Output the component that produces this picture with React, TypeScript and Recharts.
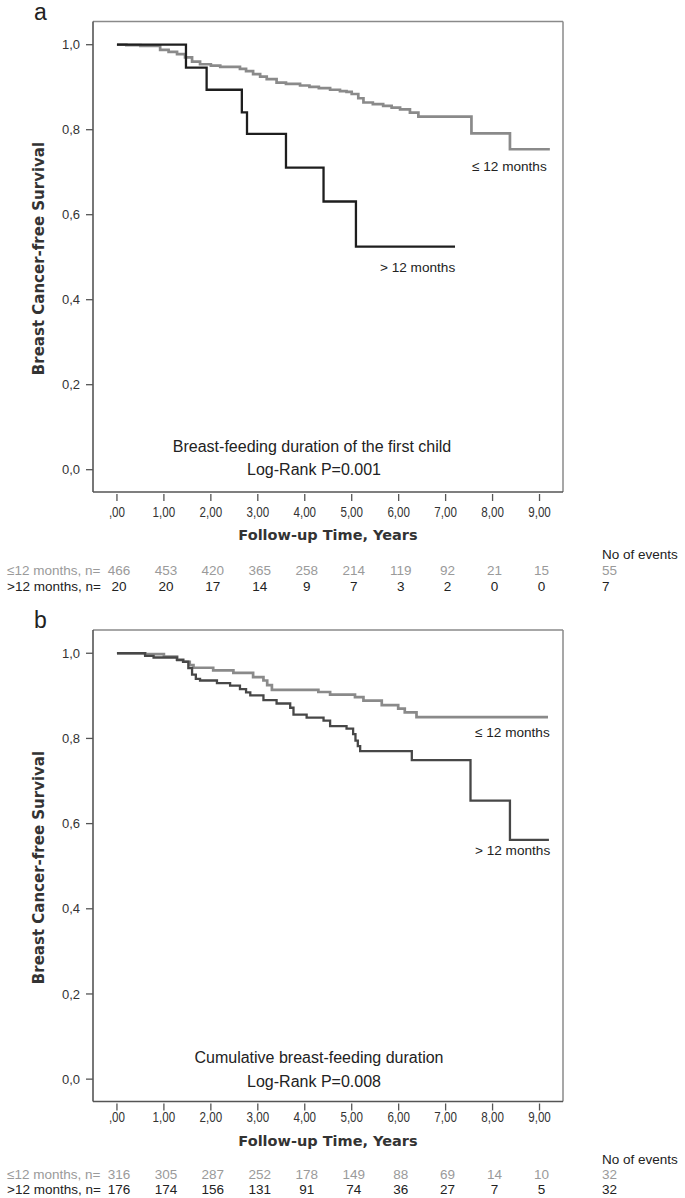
import React from 'react';
import { LineChart, Line, XAxis, YAxis, ReferenceLine } from 'recharts';

// ---------- shared axes ----------
const xTicks = [0, 1, 2, 3, 4, 5, 6, 7, 8, 9];
const yTicks = [0, 0.2, 0.4, 0.6, 0.8, 1.0];
const groupLabels = ['≤12 months, n=', '>12 months, n='];

// ---------- panel a: breast-feeding duration of the first child ----------
const aLowTime = [0, 0.2, 0.5, 0.92, 1.1, 1.28, 1.45, 1.6, 1.77, 2.0, 2.2, 2.62, 2.75, 2.9, 3.05, 3.19, 3.4, 3.6, 3.9, 4.1, 4.3, 4.54, 4.75, 4.89, 5.0, 5.14, 5.25, 5.45, 5.67, 5.85, 6.03, 6.24, 6.42, 7.55, 8.37, 9.22];
const aLowSurv = [1.0, 0.999, 0.997, 0.988, 0.983, 0.978, 0.97, 0.96, 0.954, 0.951, 0.948, 0.943, 0.938, 0.931, 0.925, 0.919, 0.911, 0.908, 0.904, 0.901, 0.898, 0.894, 0.891, 0.889, 0.884, 0.874, 0.864, 0.86, 0.856, 0.852, 0.848, 0.84, 0.831, 0.7915, 0.754, 0.754];
const aHighTime = [0, 1.47, 1.91, 2.66, 2.77, 3.6, 4.4, 5.09, 7.2];
const aHighSurv = [1.0, 0.946, 0.894, 0.841, 0.79, 0.711, 0.631, 0.525, 0.525];
const aRiskLow = [466, 453, 420, 365, 258, 214, 119, 92, 21, 15];
const aRiskHigh = [20, 20, 17, 14, 9, 7, 3, 2, 0, 0];
const aEvents = [55, 7];

// ---------- panel b: cumulative breast-feeding duration ----------
const bLowTime = [0, 0.6, 1.0, 1.28, 1.41, 1.55, 1.63, 2.05, 2.48, 2.9, 3.12, 3.2, 3.3, 4.29, 4.54, 5.07, 5.25, 5.64, 5.99, 6.13, 6.38, 9.18];
const bLowSurv = [1.0, 0.998, 0.992, 0.985, 0.98, 0.972, 0.966, 0.96, 0.954, 0.944, 0.936, 0.925, 0.914, 0.909, 0.903, 0.897, 0.889, 0.878, 0.87, 0.861, 0.85, 0.85];
const bHighTime = [0, 0.6, 0.78, 1.28, 1.41, 1.52, 1.6, 1.68, 1.77, 2.13, 2.41, 2.62, 2.75, 2.84, 3.12, 3.4, 3.69, 3.76, 4.04, 4.4, 4.54, 4.89, 5.03, 5.08, 5.13, 5.18, 6.28, 7.53, 8.37, 9.2];
const bHighSurv = [1.0, 0.994, 0.99, 0.984, 0.98, 0.965, 0.95, 0.94, 0.936, 0.93, 0.924, 0.916, 0.908, 0.901, 0.89, 0.882, 0.872, 0.856, 0.849, 0.842, 0.829, 0.823, 0.81, 0.795, 0.782, 0.77, 0.749, 0.654, 0.562, 0.562];
const bRiskLow = [316, 305, 287, 252, 178, 149, 88, 69, 14, 10];
const bRiskHigh = [176, 174, 156, 131, 91, 74, 36, 27, 7, 5];
const bEvents = [32, 32];

const zip = (t: number[], s: number[]) => t.map((v, i) => ({ t: v, s: s[i] }));

const FONT = '"Liberation Sans", Arial, sans-serif';
const BOLD = '"DejaVu Sans", Verdana, sans-serif';
const GREY_TXT = '#9a9a9a';
const DARK_TXT = '#222';

const XTick = (props: any) => {
  const { x, payload, index, base, labelY, rowY, riskLow, riskHigh } = props;
  const v = payload.value as number;
  const label = v === 0 ? ',00' : v.toFixed(2).replace('.', ',');
  return (
    <g>
      <line x1={x} x2={x} y1={base + 2} y2={base + 9} stroke="#555" strokeWidth={1.3} />
      <text transform={`translate(${x},${labelY}) scale(0.8,1)`} x={0} y={0} textAnchor="middle" dominantBaseline="central" fontSize={14.5} fontFamily={FONT} fill="#333">{label}</text>
      <text x={x + 2} y={rowY[0]} textAnchor="middle" dominantBaseline="central" fontSize={13.5} fontFamily={FONT} fill={GREY_TXT}>{riskLow[index]}</text>
      <text x={x + 2} y={rowY[1]} textAnchor="middle" dominantBaseline="central" fontSize={13.5} fontFamily={FONT} fill={DARK_TXT}>{riskHigh[index]}</text>
    </g>
  );
};

type PanelProps = {
  top: number;
  height: number;
  plotTop: number;
  plotBottom: number;
  labelY: number;
  rowY: number[];
  low: { t: number; s: number }[];
  high: { t: number; s: number }[];
  highColor: string;
  riskLow: number[];
  riskHigh: number[];
};

const Panel = (p: PanelProps) => (
  <div style={{ position: 'absolute', left: 0, top: p.top, width: 685, height: p.height }}>
    <LineChart
      width={685}
      height={p.height}
      margin={{ top: p.plotTop, right: 122, bottom: 0, left: 0 }}
    >
      <XAxis
        type="number"
        dataKey="t"
        domain={[-0.51, 9.5]}
        ticks={xTicks}
        interval={0}
        allowDataOverflow
        height={p.height - p.plotBottom}
        axisLine={{ stroke: '#555', strokeWidth: 1.6 }}
        tickLine={false}
        tick={(tp: any) => (
          <XTick {...tp} base={p.plotBottom} labelY={p.labelY} rowY={p.rowY} riskLow={p.riskLow} riskHigh={p.riskHigh} />
        )}
      />
      <YAxis
        type="number"
        dataKey="s"
        domain={[-0.0525, 1.0546]}
        ticks={yTicks}
        interval={0}
        allowDataOverflow
        width={93}
        axisLine={{ stroke: '#555', strokeWidth: 1.6 }}
        tickLine={{ stroke: '#555', strokeWidth: 1.3 }}
        tickSize={7}
        tickMargin={6}
        tick={{ fontSize: 13, fontFamily: FONT, fill: '#333' }}
        tickFormatter={(v: number) => v.toFixed(1).replace('.', ',')}
      />
      <ReferenceLine y={1.0546} stroke="#8a8a8a" strokeWidth={1.5} ifOverflow="visible" />
      <ReferenceLine x={9.5} stroke="#8a8a8a" strokeWidth={1.5} ifOverflow="visible" />
      <Line data={p.low} dataKey="s" type="stepAfter" stroke="#8a8a8a" strokeWidth={2.7} dot={false} isAnimationActive={false} />
      <Line data={p.high} dataKey="s" type="stepAfter" stroke={p.highColor} strokeWidth={2.3} dot={false} isAnimationActive={false} />
    </LineChart>
  </div>
);

const T = (props: any) => {
  const { children, ...rest } = props;
  return (
    <text dominantBaseline="central" fontFamily={FONT} fontSize={14} fill={DARK_TXT} {...rest}>{children}</text>
  );
};

export default function App() {
  return (
    <div style={{ position: 'absolute', left: 0, top: 0, width: 685, height: 1198, background: '#fff', overflow: 'hidden' }}>
      <Panel
        top={0}
        height={609}
        plotTop={21.5}
        plotBottom={492}
        labelY={512}
        rowY={[570, 586]}
        low={zip(aLowTime, aLowSurv)}
        high={zip(aHighTime, aHighSurv)}
        highColor="#1e1e1e"
        riskLow={aRiskLow}
        riskHigh={aRiskHigh}
      />
      <Panel
        top={609}
        height={589}
        plotTop={21}
        plotBottom={492.5}
        labelY={508.5}
        rowY={[565, 580]}
        low={zip(bLowTime, bLowSurv)}
        high={zip(bHighTime, bHighSurv)}
        highColor="#474747"
        riskLow={bRiskLow}
        riskHigh={bRiskHigh}
      />
      <svg width={685} height={1198} style={{ position: 'absolute', left: 0, top: 0, pointerEvents: 'none' }}>
        {/* panel a */}
        <text x={34} y={20} fontFamily={FONT} fontSize={23} fill={DARK_TXT}>a</text>
        <text transform="translate(38.5,258.5) rotate(-90)" textAnchor="middle" dominantBaseline="central" fontFamily={BOLD} fontWeight="bold" fontSize={15} fill="#333">Breast Cancer-free Survival</text>
        <T x={312} y={446} fontSize={16} textAnchor="middle">Breast-feeding duration of the first child</T>
        <T x={314} y={469} fontSize={16} textAnchor="middle">Log-Rank P=0.001</T>
        <T x={472} y={166} fontSize={13.6}>≤ 12 months</T>
        <T x={380} y={267} fontSize={13.6}>&gt; 12 months</T>
        <text x={328} y={535} textAnchor="middle" dominantBaseline="central" fontFamily={BOLD} fontWeight="bold" fontSize={14.5} fill="#333">Follow-up Time, Years</text>
        <T x={7} y={570} fontSize={13.5} fill={GREY_TXT}>{groupLabels[0]}</T>
        <T x={7} y={586} fontSize={13.5}>{groupLabels[1]}</T>
        <T x={602} y={554} fontSize={13.5}>No of events</T>
        <T x={602} y={570} fontSize={13.5} fill={GREY_TXT}>{aEvents[0]}</T>
        <T x={602} y={586} fontSize={13.5}>{aEvents[1]}</T>

        {/* panel b */}
        <text x={34} y={628} fontFamily={FONT} fontSize={23} fill={DARK_TXT}>b</text>
        <text transform="translate(38.5,867.5) rotate(-90)" textAnchor="middle" dominantBaseline="central" fontFamily={BOLD} fontWeight="bold" fontSize={15} fill="#333">Breast Cancer-free Survival</text>
        <T x={319} y={1057} fontSize={16} textAnchor="middle">Cumulative breast-feeding duration</T>
        <T x={314} y={1081} fontSize={16} textAnchor="middle">Log-Rank P=0.008</T>
        <T x={475} y={732} fontSize={13.6}>≤ 12 months</T>
        <T x={475} y={850} fontSize={13.6}>&gt; 12 months</T>
        <text x={328} y={1141} textAnchor="middle" dominantBaseline="central" fontFamily={BOLD} fontWeight="bold" fontSize={14.5} fill="#333">Follow-up Time, Years</text>
        <T x={7} y={1174} fontSize={13.5} fill={GREY_TXT}>{groupLabels[0]}</T>
        <T x={7} y={1189} fontSize={13.5}>{groupLabels[1]}</T>
        <T x={602} y={1159} fontSize={13.5}>No of events</T>
        <T x={602} y={1174} fontSize={13.5} fill={GREY_TXT}>{bEvents[0]}</T>
        <T x={602} y={1189} fontSize={13.5}>{bEvents[1]}</T>
      </svg>
    </div>
  );
}
